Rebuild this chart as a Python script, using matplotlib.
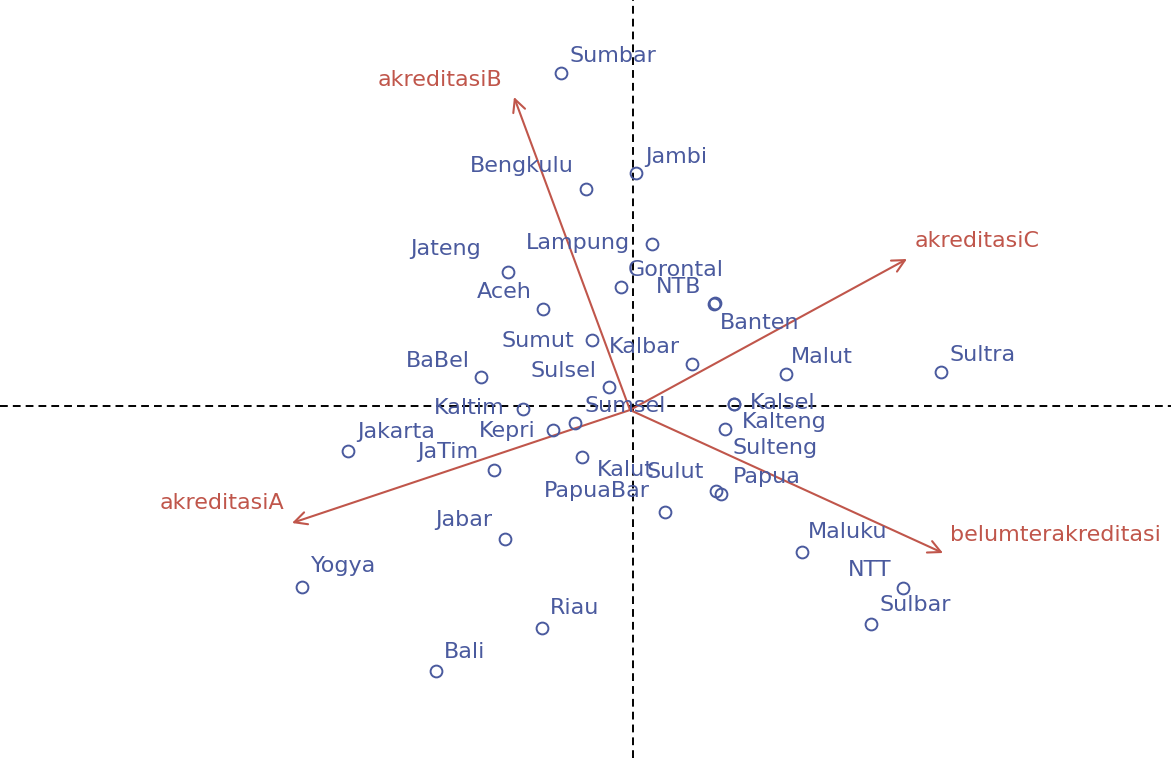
import matplotlib.pyplot as plt
import numpy as np

# province scores (biplot coordinates)
provinces = ['Sumbar', 'Jambi', 'Bengkulu', 'Lampung', 'Jateng', 'Gorontal', 'NTB', 'Banten',
             'Aceh', 'Sumut', 'Kalbar', 'Malut', 'Sultra', 'BaBel', 'Sulsel', 'Kaltim',
             'Sumsel', 'Kepri', 'Kalsel', 'Kalteng', 'Sulteng', 'Jakarta', 'JaTim', 'Kalut',
             'Papua', 'Sulut', 'PapuaBar', 'Jabar', 'Yogya', 'Riau', 'Bali', 'Maluku',
             'NTT', 'Sulbar']
pc1 = [-0.72, 0.03, -0.47, 0.19, -1.25, -0.12, 0.82, 0.81,
       -0.90, -0.41, 0.59, 1.53, 3.08, -1.52, -0.24, -1.10,
       -0.58, -0.80, 1.01, 1.01, 0.92, -2.85, -1.39, -0.51,
       0.88, 0.83, 0.32, -1.28, -3.31, -0.91, -1.97, 1.69,
       2.70, 2.38]
pc2 = [3.33, 2.33, 2.17, 1.62, 1.34, 1.19, 1.03, 1.02,
       0.97, 0.66, 0.42, 0.32, 0.34, 0.29, 0.19, -0.03,
       -0.17, -0.24, 0.02, 0.02, -0.23, -0.45, -0.64, -0.51,
       -0.88, -0.85, -1.06, -1.33, -1.81, -2.22, -2.65, -1.46,
       -1.82, -2.18]

# variable loadings (arrows)
variables = ['akreditasiA', 'akreditasiB', 'akreditasiC', 'belumterakreditasi']
load1 = [-3.38, -1.16, 2.77, 3.13]
load2 = [-1.13, 3.13, 1.51, -1.43]
arrow_origin = (-0.03, -0.04)

# label offsets in pixels (layout only)
lab_dx = [52, 40, -64, -74, -62, 55, -36, 46, -39, -54, -48, 36, 42, -43, -46, -54,
          50, -46, 49, 50, 50, 48, -46, 43, 46, -41, -68, -41, 42, 33, 29, 46, -33, 44]
lab_dy = [17, 16, 23, 1, 23, 17, 16, -19, 17, -1, 17, 17, 17, 16, 16, 1,
          17, -1, 1, -18, -19, 19, 18, -13, 17, 19, 21, 19, 21, 20, 19, 20, 18, 19]
var_dx = [-70, -74, 70, 112]
var_dy = [20, 17, 18, 18]

pt_col = '#4A5A9E'
ar_col = '#C0564B'

fig = plt.figure(figsize=(11.71, 7.58), dpi=100)
ax = fig.add_axes([0, 0, 1, 1])
ax.set_xlim(-6.33, 5.38)
ax.set_ylim(-3.52, 4.06)
ax.axis('off')

ax.axhline(0, color='black', lw=1.4, ls=(0, (4, 2.6)), zorder=1)
ax.axvline(0, color='black', lw=1.4, ls=(0, (4, 2.6)), zorder=1)

ax.plot(pc1, pc2, 'o', ms=8.5, mfc='none', mec=pt_col, mew=1.4, zorder=3)
for name, x, y, dx, dy in zip(provinces, pc1, pc2, lab_dx, lab_dy):
    ax.annotate(name, (x, y), xytext=(dx, dy), textcoords='offset pixels',
                ha='center', va='center', fontsize=16, color=pt_col, zorder=4)

ox, oy = arrow_origin
for name, lx, ly, dx, dy in zip(variables, load1, load2, var_dx, var_dy):
    ax.annotate('', xy=(ox + lx, oy + ly), xytext=(ox, oy),
                arrowprops=dict(arrowstyle='->,head_length=0.9,head_width=0.45',
                                color=ar_col, lw=1.5, shrinkA=0, shrinkB=0), zorder=2)
    ax.annotate(name, (ox + lx, oy + ly), xytext=(dx, dy), textcoords='offset pixels',
                ha='center', va='center', fontsize=16, color=ar_col, zorder=4)

fig.savefig('out.png', dpi=100)
